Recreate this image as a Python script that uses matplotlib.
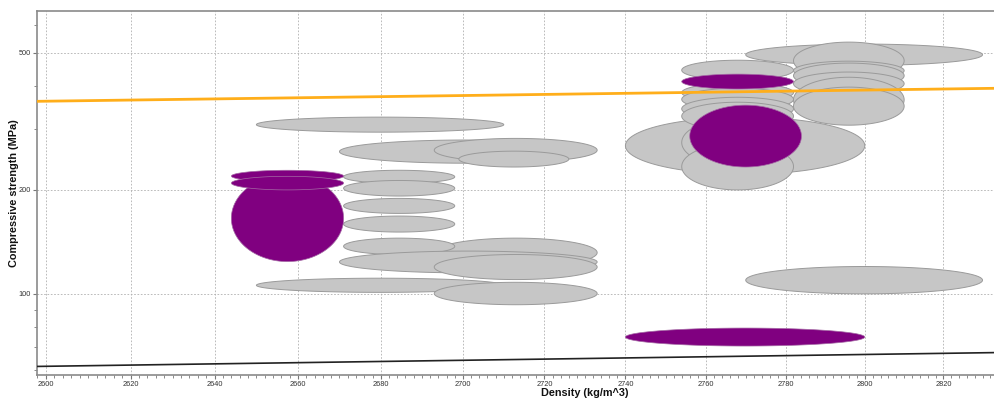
import numpy as np
import matplotlib.pyplot as plt
from matplotlib.ticker import FixedLocator, NullFormatter

plt.rcParams['font.family'] = ['Liberation Sans', 'DejaVu Sans']

# material bubbles: (density lo, density hi, strength lo, strength hi)
gray_bubbles = [
    (2650, 2710, 294, 325),
    (2670, 2732, 239, 279),
    (2693, 2733, 241, 282),
    (2699, 2726, 233, 259),
    (2671, 2698, 209, 228),
    (2671, 2698, 192, 213),
    (2671, 2698, 171, 189),
    (2671, 2698, 151, 168),
    (2693, 2733, 119.5, 145),
    (2671, 2698, 130, 145),
    (2670, 2733, 115, 133),
    (2693, 2733, 110, 130),
    (2650, 2710, 101, 111),
    (2693, 2733, 93, 108),
    (2770, 2830, 459, 529),
    (2782, 2810, 418, 536),
    (2782, 2810, 416, 472),
    (2782, 2810, 394, 466),
    (2782, 2810, 376, 439),
    (2782, 2810, 314, 424),
    (2782, 2810, 308, 397),
    (2740, 2800, 222, 325),
    (2754, 2782, 416, 475),
    (2754, 2782, 359, 408),
    (2754, 2782, 340, 394),
    (2754, 2782, 318, 371),
    (2754, 2782, 298, 359),
    (2754, 2782, 233, 323),
    (2754, 2782, 200, 273),
    (2770, 2830, 100, 120),
]
purple_bubbles = [
    (2644, 2671, 124, 221),
    (2644, 2671, 211, 228),
    (2644, 2671, 200, 219),
    (2754, 2782, 392, 433),
    (2756, 2784, 233, 352),
    (2740, 2800, 70.6, 79.6),
]

# guide lines (slope 1 on log-log)
line_x = [2597, 2834]
orange_y = [361, 394]
black_y = [61.6, 67.6]

x_ticks = [2600, 2620, 2640, 2660, 2680, 2700, 2720, 2740, 2760, 2780, 2800, 2820]
y_ticks = [100, 200, 500]
y_minor = [60, 70, 80, 90, 300, 400, 600]


def draw_bubble(ax, b, fc, ec, lw):
    t = np.linspace(0, 2 * np.pi, 200)
    lx0, lx1 = np.log(b[0]), np.log(b[1])
    ly0, ly1 = np.log(b[2]), np.log(b[3])
    cx, rx = (lx0 + lx1) / 2, (lx1 - lx0) / 2
    cy, ry = (ly0 + ly1) / 2, (ly1 - ly0) / 2
    ax.fill(np.exp(cx + rx * np.cos(t)), np.exp(cy + ry * np.sin(t)),
            fc=fc, ec=ec, lw=lw, zorder=3)


fig = plt.figure(figsize=(9.95, 4.01), dpi=100)
ax = fig.add_axes([37 / 995, 26 / 401, 958 / 995, 364 / 401])
ax.set_xscale('log')
ax.set_yscale('log')

for b in gray_bubbles:
    draw_bubble(ax, b, '#c6c6c6', '#9a9a9a', 0.7)
for b in purple_bubbles:
    draw_bubble(ax, b, '#800080', '#a56aa5', 0.5)

ax.plot(line_x, orange_y, color='#ffae1a', lw=2, zorder=4)
ax.plot(line_x, black_y, color='#222222', lw=1.2, zorder=4)

ax.set_xlim(2597.9, 2833.2)
ax.set_ylim(58.2, 659.6)

ax.xaxis.set_major_locator(FixedLocator(x_ticks))
ax.xaxis.set_minor_locator(FixedLocator(np.arange(2598, 2834, 2)))
ax.set_xticklabels([str(v) for v in x_ticks])
ax.xaxis.set_minor_formatter(NullFormatter())
ax.yaxis.set_major_locator(FixedLocator(y_ticks))
ax.yaxis.set_minor_locator(FixedLocator(y_minor))
ax.set_yticklabels([str(v) for v in y_ticks])
ax.yaxis.set_minor_formatter(NullFormatter())

ax.tick_params(which='major', length=3, width=0.8, color='#777777',
               labelsize=5.3, labelcolor='#333333', pad=1.5)
ax.tick_params(which='minor', length=2, width=0.6, color='#777777')

ax.grid(which='major', color='#b0b0b0', ls=(0, (2, 2)), lw=0.6, zorder=0)
ax.set_axisbelow(True)

for s in ['left', 'bottom', 'top']:
    ax.spines[s].set_color('#8a8a8a')
    ax.spines[s].set_linewidth(1.2)
ax.spines['right'].set_visible(False)

ax.set_xlabel('Density (kg/m^3)', fontsize=7.8, fontweight='bold', color='#111111')
ax.xaxis.set_label_coords((585 - 37) / 958, -13 / 364)
ax.set_ylabel('Compressive strength (MPa)', fontsize=7.8, fontweight='bold', color='#111111')
ax.yaxis.set_label_coords(-17.5 / 958, 0.5)

fig.savefig('out.png', dpi=100)
